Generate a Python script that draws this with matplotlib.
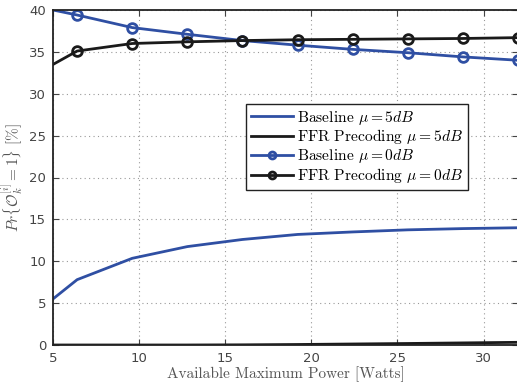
import numpy as np
import matplotlib
matplotlib.use('Agg')
import matplotlib.pyplot as plt

# données
power = [5, 6.4, 9.6, 12.8, 16, 19.2, 22.4, 25.6, 28.8, 32]
base_5db = [5.5, 7.8, 10.35, 11.75, 12.6, 13.2, 13.5, 13.75, 13.9, 14.0]
ffr_5db = [0.0, 0.0, 0.0, 0.0, 0.02, 0.06, 0.12, 0.18, 0.25, 0.32]
base_0db = [40.0, 39.4, 37.9, 37.1, 36.35, 35.8, 35.3, 34.9, 34.4, 34.0]
ffr_0db = [33.5, 35.1, 36.0, 36.2, 36.35, 36.45, 36.5, 36.55, 36.6, 36.7]

blue = '#2f4fa3'
black = '#1a1a1a'
gray = '#444444'

plt.rcParams['mathtext.fontset'] = 'cm'

fig = plt.figure(figsize=(5.17, 3.85), dpi=100)
ax = fig.add_axes([53/517, 40/385, 465/517, 335/385])

# le premier point (x=5) est le bord de la courbe, sans marqueur
ax.plot(power, base_5db, color=blue, lw=2, label=r'Baseline $\mu=5dB$')
ax.plot(power, ffr_5db, color=black, lw=2, label=r'FFR Precoding $\mu=5dB$')
ax.plot(power, base_0db, color=blue, lw=2, marker='o', ms=7, mew=2,
        mfc='none', markevery=slice(1, None), label=r'Baseline $\mu=0dB$')
ax.plot(power, ffr_0db, color=black, lw=2, marker='o', ms=7, mew=2,
        mfc='none', markevery=slice(1, None), label=r'FFR Precoding $\mu=0dB$')

ax.set_xlim(5, 32)
ax.set_ylim(0, 40)
ax.set_xticks([5, 10, 15, 20, 25, 30])
ax.set_yticks(np.arange(0, 41, 5))
ax.grid(True, ls=(0, (1, 3)), color='#999999', lw=0.8)
ax.tick_params(direction='in', length=4, top=True, right=True,
               labelsize=9.5, labelcolor=gray, color=gray, pad=5)
for s in ax.spines.values():
    s.set_color('#222222')
    s.set_linewidth(1.3)

ax.set_xlabel('Available Maximum Power [Watts]', family='cmr10', fontsize=11,
              color='#555555', labelpad=1)
ax.set_ylabel(r'$Pr\{\mathcal{O}_k^{[i]}=1\}\ [\%]$', fontsize=11,
              color='#555555', labelpad=0)
ax.yaxis.set_label_coords(-0.057, 0.5)

leg = ax.legend(loc='upper left', bbox_to_anchor=(246/517, 1 - 104/385),
                bbox_transform=fig.transFigure, fancybox=False,
                prop={'family': 'cmr10', 'size': 11.2}, handlelength=2.7,
                handletextpad=0.3, labelspacing=0.05, borderpad=0.3,
                borderaxespad=0)
leg.get_frame().set_edgecolor('#222222')
leg.get_frame().set_linewidth(1.0)
leg.get_frame().set_alpha(1)
for l in leg.get_lines():
    l.set_markersize(5)

fig.savefig('out.png', dpi=100)
